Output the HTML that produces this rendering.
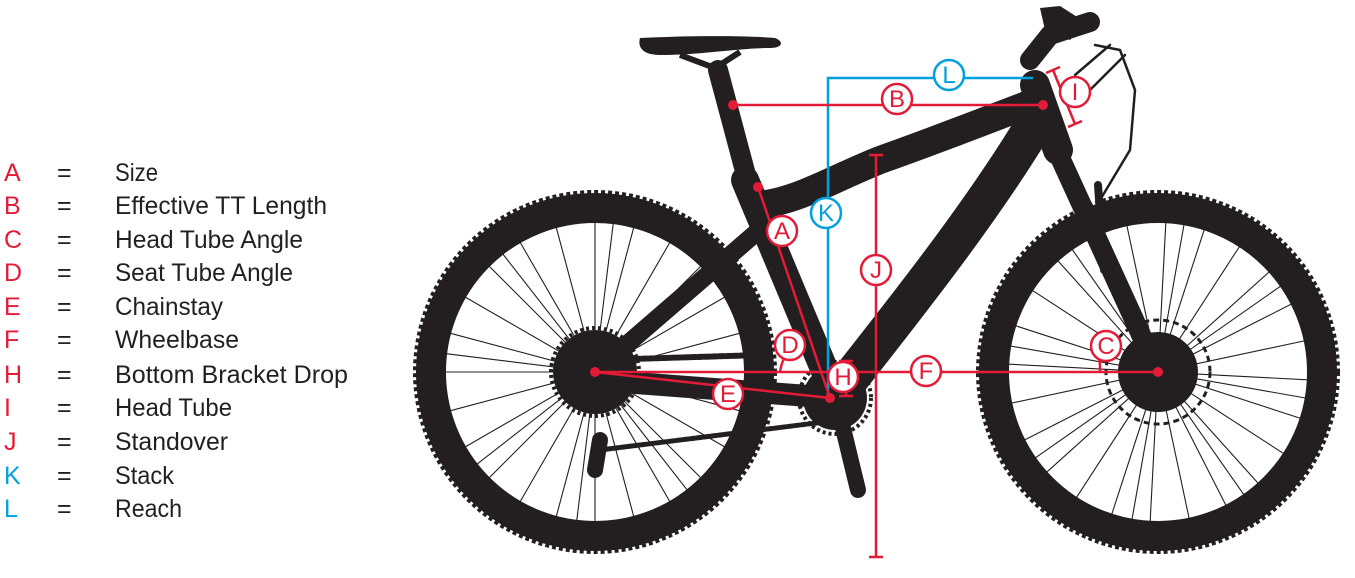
<!DOCTYPE html>
<html><head><meta charset="utf-8"><style>
html,body{margin:0;padding:0;background:#fff;width:1355px;height:578px;overflow:hidden}
svg{display:block}
text{font-family:"Liberation Sans",sans-serif}
</style></head><body>
<svg width="1355" height="578" viewBox="0 0 1355 578" xmlns="http://www.w3.org/2000/svg">
<defs>
<line id="sp" x1="-152" y1="0" x2="152" y2="0" stroke="#231f20" stroke-width="1.1"/>
</defs>
<!-- Legend -->
<g font-size="25">
<g fill="#e31b37">
<text x="4" y="181">A</text><text x="4" y="214">B</text><text x="4" y="248">C</text><text x="4" y="281">D</text><text x="4" y="315">E</text><text x="4" y="348">F</text><text x="4" y="383">H</text><text x="4" y="416">I</text><text x="4" y="450">J</text>
</g>
<g fill="#00a0e0"><text x="4" y="484">K</text><text x="4" y="517">L</text></g>
<g fill="#231f20">
<text x="57" y="181">=</text><text x="57" y="214">=</text><text x="57" y="248">=</text><text x="57" y="281">=</text><text x="57" y="315">=</text><text x="57" y="348">=</text><text x="57" y="383">=</text><text x="57" y="416">=</text><text x="57" y="450">=</text><text x="57" y="484">=</text><text x="57" y="517">=</text>
<text x="115" y="181" textLength="43" lengthAdjust="spacingAndGlyphs">Size</text>
<text x="115" y="214" textLength="212" lengthAdjust="spacingAndGlyphs">Effective TT Length</text>
<text x="115" y="248" textLength="188" lengthAdjust="spacingAndGlyphs">Head Tube Angle</text>
<text x="115" y="281" textLength="178" lengthAdjust="spacingAndGlyphs">Seat Tube Angle</text>
<text x="115" y="315" textLength="108" lengthAdjust="spacingAndGlyphs">Chainstay</text>
<text x="115" y="348" textLength="124" lengthAdjust="spacingAndGlyphs">Wheelbase</text>
<text x="115" y="383" textLength="233" lengthAdjust="spacingAndGlyphs">Bottom Bracket Drop</text>
<text x="115" y="416" textLength="117" lengthAdjust="spacingAndGlyphs">Head Tube</text>
<text x="115" y="450" textLength="113" lengthAdjust="spacingAndGlyphs">Standover</text>
<text x="115" y="484" textLength="59" lengthAdjust="spacingAndGlyphs">Stack</text>
<text x="115" y="517" textLength="67" lengthAdjust="spacingAndGlyphs">Reach</text>
</g></g>

<!-- Wheels -->
<g fill="none" stroke="#231f20">
<circle cx="595" cy="372" r="164" stroke-width="30"/>
<circle cx="595" cy="372" r="180" stroke-width="4" stroke-dasharray="4 3"/>
<circle cx="1158" cy="372" r="164" stroke-width="30"/>
<circle cx="1158" cy="372" r="180" stroke-width="4" stroke-dasharray="4 3"/>
</g>
<g transform="translate(595,372)">
<use href="#sp" transform="rotate(0)"/><use href="#sp" transform="rotate(15)"/><use href="#sp" transform="rotate(30)"/><use href="#sp" transform="rotate(45)"/><use href="#sp" transform="rotate(60)"/><use href="#sp" transform="rotate(75)"/><use href="#sp" transform="rotate(90)"/><use href="#sp" transform="rotate(105)"/><use href="#sp" transform="rotate(120)"/><use href="#sp" transform="rotate(135)"/><use href="#sp" transform="rotate(150)"/><use href="#sp" transform="rotate(165)"/>
<use href="#sp" transform="rotate(7)"/><use href="#sp" transform="rotate(52)"/><use href="#sp" transform="rotate(97)"/><use href="#sp" transform="rotate(142)"/>
<circle r="42" fill="#231f20"/><circle r="44" fill="none" stroke="#231f20" stroke-width="4" stroke-dasharray="3 3"/>
</g>
<g transform="translate(1158,372)">
<use href="#sp" transform="rotate(3)"/><use href="#sp" transform="rotate(18)"/><use href="#sp" transform="rotate(33)"/><use href="#sp" transform="rotate(48)"/><use href="#sp" transform="rotate(63)"/><use href="#sp" transform="rotate(78)"/><use href="#sp" transform="rotate(93)"/><use href="#sp" transform="rotate(108)"/><use href="#sp" transform="rotate(123)"/><use href="#sp" transform="rotate(138)"/><use href="#sp" transform="rotate(153)"/><use href="#sp" transform="rotate(168)"/>
<use href="#sp" transform="rotate(10)"/><use href="#sp" transform="rotate(55)"/><use href="#sp" transform="rotate(100)"/><use href="#sp" transform="rotate(145)"/>
<circle r="40" fill="#231f20"/><circle r="52" fill="none" stroke="#231f20" stroke-width="3" stroke-dasharray="6 4"/>
</g>

<!-- Frame -->
<g fill="none" stroke="#231f20" stroke-linecap="round" stroke-linejoin="round">
<path d="M718 70 L750 190" stroke-width="20"/>
<path d="M745 180 L835 395" stroke-width="28"/>
<path d="M760 205 C800 200 830 180 880 160 C950 135 1000 115 1040 100" stroke-width="28"/>
<path d="M1040 115 C990 200 920 290 845 385" stroke-width="38"/>
<path d="M1035 85 L1058 150" stroke-width="30"/>
<path d="M1052 140 L1158 372" stroke-width="20"/>
<path d="M1098 185 L1104 270" stroke-width="8"/>
<path d="M1030 60 L1050 35 L1090 22" stroke-width="20"/>
<path d="M1095 45 L1120 50 L1135 90 L1130 150 L1100 200" stroke-width="2.5"/>
<path d="M1075 75 L1110 45 M1080 100 L1125 55" stroke-width="2.5"/>
<path d="M765 225 L595 372" stroke-width="18"/>
<path d="M595 380 L835 398" stroke-width="22"/>
<path d="M600 360 L760 355" stroke-width="6" stroke-dasharray="5 2"/>
<path d="M600 450 L840 420" stroke-width="5" stroke-dasharray="5 2"/>
<path d="M835 395 L858 490" stroke-width="16"/>
<path d="M600 440 L595 470" stroke-width="16"/>
</g>
<circle cx="835" cy="398" r="32" fill="#231f20"/>
<circle cx="835" cy="398" r="36" fill="none" stroke="#231f20" stroke-width="4" stroke-dasharray="3 3"/>
<path d="M640 38 C680 36 740 35 775 38 C785 42 782 48 770 48 C740 48 700 55 660 55 C640 55 638 45 640 38 Z" fill="#231f20"/>
<path d="M680 55 L715 68 L740 52" fill="none" stroke="#231f20" stroke-width="6"/>
<path d="M1040 8 L1060 6 L1085 22 L1070 40 L1045 30 Z" fill="#231f20"/>

<!-- Measurement lines -->
<g fill="none" stroke="#00a0e0" stroke-width="2.5">
<path d="M1033 78 L828 78 L828 398"/>
</g>
<g fill="none" stroke="#e31b37" stroke-width="2.5">
<path d="M733 105 L1043 105"/>
<path d="M758 187 L830 398"/>
<path d="M595 372 L830 398"/>
<path d="M595 372 L1158 372"/>
<path d="M876 155 L876 557 M869 155 L883 155 M869 557 L883 557"/>
<path d="M1053 70 L1075 124 M1046 73 L1060 67 M1068 127 L1082 121"/>
<path d="M846 361 L846 396 M839 361 L853 361 M839 396 L853 396"/>
<path d="M780 372 Q782 360 786 356"/>
<path d="M1100 372 Q1100 350 1096 340"/>
</g>
<g fill="#e31b37">
<circle cx="733" cy="105" r="5"/><circle cx="1043" cy="105" r="5"/><circle cx="758" cy="187" r="5"/><circle cx="595" cy="372" r="5"/><circle cx="830" cy="398" r="5"/><circle cx="1158" cy="372" r="5"/>
</g>
<g font-size="24" text-anchor="middle" stroke-width="2.5">
<g fill="#fff" stroke="#e31b37">
<circle cx="897" cy="99" r="15"/><circle cx="1075" cy="92" r="15"/><circle cx="876" cy="270" r="15"/><circle cx="782" cy="231" r="15"/><circle cx="790" cy="345" r="15"/><circle cx="728" cy="394" r="15"/><circle cx="926" cy="371" r="15"/><circle cx="843" cy="377" r="15"/><circle cx="1106" cy="346" r="15"/>
</g>
<g fill="#fff" stroke="#00a0e0">
<circle cx="949" cy="75" r="15"/><circle cx="826" cy="213" r="15"/>
</g>
<g fill="#e31b37">
<text x="897" y="107">B</text><text x="1075" y="100">I</text><text x="876" y="278">J</text><text x="782" y="239">A</text><text x="790" y="353">D</text><text x="728" y="402">E</text><text x="926" y="379">F</text><text x="843" y="385">H</text><text x="1106" y="354">C</text>
</g>
<g fill="#00a0e0"><text x="949" y="83">L</text><text x="826" y="221">K</text></g>
</g>
</svg>
</body></html>
